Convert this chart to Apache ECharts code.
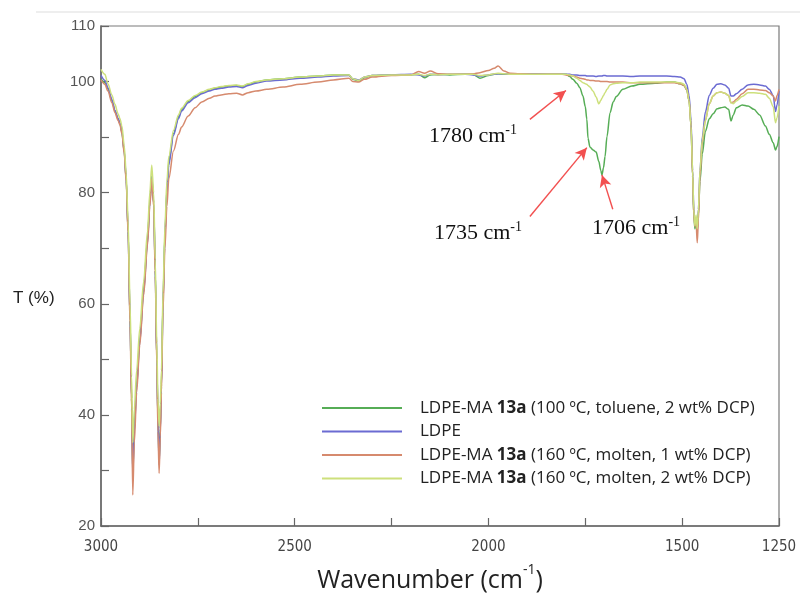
<!DOCTYPE html>
<html><head><meta charset="utf-8">
<script src="https://cdn.jsdelivr.net/npm/echarts@6/dist/echarts.min.js"></script>
<style>html,body{margin:0;padding:0;background:#fff}#c{width:800px;height:598px}</style>
</head><body><div id="c"></div>
<script>
// Wavenumbers (cm-1), shared by all four spectra
const wavenumbers = [
  3000,2990,2982,2972,2964,2956,2951,2946,2940,2935,2930,2925,2921,2918,2914,2908,2900,2890,2880,2874,
  2869,2864,2860,2856,2853,2850,2847,2844,2840,2835,2830,2825,2813,2800,2792,2775,2757,2740,2720,2706,
  2690,2670,2650,2635,2620,2600,2572,2530,2486,2440,2400,2360,2350,2335,2320,2300,2250,
  2200,2180,2165,2150,2130,2100,2060,2040,2022,2000,1985,1975,1960,1944,1920,1880,1840,1810,
  1800,1790,1782,1772,1764,1756,1750,1746,1743,1738,1730,1722,1715,1710,1707,1703,1699,1694,1686,1678,
  1670,1653,1630,1609,1570,1540,1520,
  1505,1495,1488,1482,1477,1473,1470,1467,1464,1461,1458,1454,1448,1440,1430,1420,1410,1400,1390,1380,
  1374,1368,1360,1345,1330,1315,1300,1285,1275,1265,1259,1255,1250
];
// LDPE-MA 13a (100 ºC, toluene, 2 wt% DCP)
const tolueneMA2 = [
  100.4,99.8,98.7,96.6,94.7,93.3,92.4,90.8,87.3,82.3,73,57,43,29.5,37.5,45.5,53.5,62.5,71.5,78.3,
  83,78.2,66,50,39.5,31.5,37.5,45.5,60.5,72.5,80.5,85.5,90.6,93.6,94.9,96.4,97.3,98.0,98.5,98.8,
  99.0,99.2,99.3,99.1,99.5,99.9,100.3,100.5,100.8,101.0,101.2,101.2,100.4,100.1,100.7,101.1,101.2,
  101.2,101.3,100.7,101.2,101.3,101.2,101.3,101.3,100.6,101.1,101.3,101.4,101.3,101.3,101.3,101.3,101.3,101.3,
  101.3,100.9,100.4,99.7,98.9,97.4,95.5,93.2,89.8,88.2,87.7,87.3,85.6,84.0,83.2,84.5,86.5,90.1,94.4,96.3,
  97.3,98.6,99.2,99.5,99.7,99.9,99.9,
  99.6,99.3,98.5,96.5,92,83,76,73.5,75,73.5,76,82,87,91,93.3,94.2,95.1,95.3,95.4,95.0,
  92.9,94.0,95.3,95.8,95.6,95.0,94.0,92.0,90.5,89.0,87.7,88.3,90.1
];
// LDPE
const ldpe = [
  101.1,100.2,98.9,96.8,94.8,93.4,92.5,91.0,87.5,82.5,73,57,43,28.8,37,45,53,62,71,78,
  82.8,78,66,50,39,31,37,45,60,72,80,85,90.3,93.3,94.7,96.2,97.1,97.8,98.3,98.6,
  98.8,99.0,99.1,98.9,99.3,99.7,100.1,100.3,100.6,100.8,101.0,101.1,100.5,100.3,100.8,101.1,101.2,
  101.3,101.2,101.0,101.3,101.2,101.3,101.3,101.2,101.0,101.2,101.3,101.4,101.4,101.3,101.4,101.4,101.3,101.3,
  101.3,101.3,101.2,101.2,101.1,101.1,101.1,101.0,101.0,101.0,101.0,100.9,101.0,101.0,101.0,101.1,101.1,101.0,101.0,101.0,
  101.0,101.0,100.9,101.0,101.0,101.0,100.9,
  100.8,100.5,99.5,97.5,93,84,77,74.5,75.5,73,77,84,90,94.5,97.5,98.8,99.5,99.6,99.4,98.8,
  97.4,97.4,97.8,98.6,99.4,99.5,99.4,99.2,98.6,97.5,94.6,95.8,98.3
];
// LDPE-MA 13a (160 ºC, molten, 1 wt% DCP)
const moltenMA1 = [
  100.3,99.5,98.3,96.2,94.4,93.0,92.2,90.6,87,82,72.5,56,41,25.6,35,44,52.5,61.5,70.5,77.5,
  82.5,77.5,65,49,37,29.5,36,44,58.5,70,77.5,82.5,87.5,90.5,91.8,93.8,95.3,96.3,97.0,97.4,
  97.6,97.8,97.9,97.6,98.0,98.3,98.6,99.0,99.5,99.9,100.3,100.6,100.0,99.9,100.4,100.8,101.1,
  101.2,101.8,101.5,101.9,101.4,101.3,101.3,101.4,101.6,102.0,102.4,102.8,101.9,101.5,101.4,101.3,101.3,101.3,
  101.2,101.1,101.0,100.8,100.6,100.5,100.4,100.3,100.3,100.2,100.2,100.1,100.1,100.0,100.0,100.0,100.0,100.0,99.9,99.9,
  99.9,99.9,99.8,99.8,99.8,99.8,99.8,
  99.6,99.3,98.5,96.5,92,83,76,74,74.5,71,75,83,89,93,96,97.4,98,98.1,97.9,97.5,
  96.2,96.3,96.8,97.8,98.6,98.6,98.5,98.4,98.0,97.4,96.5,97.5,98.6
];
// LDPE-MA 13a (160 ºC, molten, 2 wt% DCP)
const moltenMA2 = [
  102.2,101.3,99.6,97.6,95.9,94.2,93.3,92,88.5,83.5,75,60,47,35,41,48,55.5,64,73,80,
  85,80,68,53,43,38,42,48,62,74,82,86.5,91.2,94.0,95.2,96.6,97.5,98.1,98.6,98.9,
  99.1,99.3,99.4,99.2,99.6,100.0,100.3,100.5,100.8,101.0,101.2,101.2,100.5,100.2,100.8,101.1,101.2,
  101.2,101.3,101.1,101.3,101.2,101.3,101.3,101.3,101.1,101.2,101.4,101.5,101.4,101.3,101.3,101.3,101.3,101.3,
  101.3,101.2,101.0,100.6,100.2,99.8,99.6,99.5,99.3,99.0,98.3,97.2,96.0,96.6,97.0,97.5,98.0,98.6,99.4,99.6,
  99.7,99.8,99.8,99.9,99.9,99.9,99.9,
  99.8,99.5,98.6,96.5,92,84,77,74,76,73.5,77,84,89.5,93,96,97.4,98,98.1,97.9,97.5,
  96.2,96.0,96.5,97.3,98.0,98.0,97.9,97.7,97.0,95.5,92.6,93.5,95.6
];
const seriesNames = [
  'LDPE-MA 13a (100 ºC, toluene, 2 wt% DCP)',
  'LDPE',
  'LDPE-MA 13a (160 ºC, molten, 1 wt% DCP)',
  'LDPE-MA 13a (160 ºC, molten, 2 wt% DCP)'
];
const seriesValues = [tolueneMA2, ldpe, moltenMA1, moltenMA2];
const seriesColors = ['#56ad56', '#6b6bd2', '#d68a6e', '#cde07c'];
const xTickLabels = [3000, 2500, 2000, 1500, 1250];
const yTickLabels = [20, 40, 60, 80, 100, 110];
// Annotations: label text, arrow tail, arrow head, label centre (data coordinates)
const annotations = [
  {label: '1780', tail: [1893, 93.2], head: [1800, 98.4], at: [2040, 90.4]},
  {label: '1735', tail: [1893, 75.7], head: [1746, 88.1], at: [2027, 72.8]},
  {label: '1706', tail: [1679, 77.0], head: [1707, 83.2], at: [1619, 73.7]}
];

const chart = echarts.init(document.getElementById('c'), null, {renderer: 'canvas'});
const rich = {
  n: {fontFamily: 'Open Sans', fontSize: 17, color: '#222'},
  b: {fontFamily: 'Open Sans', fontSize: 17, fontWeight: 'bold', color: '#222'}
};
const series = seriesNames.map((name, k) => ({
  name: name,
  type: 'line',
  data: wavenumbers.map((w, i) => [w, seriesValues[k][i]]),
  showSymbol: false,
  symbol: 'none',
  smooth: 0.3,
  smoothMonotone: 'x',
  lineStyle: {color: seriesColors[k], width: 1.5},
  itemStyle: {color: seriesColors[k]},
  animation: false,
  z: 2
}));
series.push({
  type: 'line', data: [], silent: true, animation: false,
  markLine: {
    silent: true, animation: false,
    symbol: ['none', 'arrow'], symbolSize: [9, 12],
    lineStyle: {color: '#f25050', width: 1.4, type: 'solid'},
    label: {show: false},
    data: annotations.map(a => [{coord: a.tail}, {coord: a.head}])
  },
  markPoint: {
    silent: true, animation: false,
    symbol: 'rect', symbolSize: 1, itemStyle: {color: 'rgba(0,0,0,0)'},
    label: {
      show: true, position: 'inside',
      formatter: p => '{t|' + p.name + ' cm}{s|-1}',
      rich: {
        t: {fontFamily: 'Liberation Serif', fontSize: 22, color: '#111', lineHeight: 24, verticalAlign: 'bottom'},
        s: {fontFamily: 'Liberation Serif', fontSize: 14, color: '#111', lineHeight: 24, verticalAlign: 'top'}
      }
    },
    data: annotations.map(a => ({name: a.label, coord: a.at}))
  }
});

chart.setOption({
  backgroundColor: '#fff',
  animation: false,
  grid: {left: 101, right: 21, top: 26, bottom: 72, show: true, borderColor: '#7a7a7a', borderWidth: 1.2},
  legend: {
    orient: 'vertical', left: 317, top: 394,
    data: seriesNames.map((n, k) => ({name: n, icon: 'rect', itemStyle: {color: seriesColors[k]}})),
    itemWidth: 80, itemHeight: 2, itemGap: 5.5,
    textStyle: {fontFamily: 'Open Sans', fontSize: 17, color: '#222', lineHeight: 18, padding: [0, 0, 0, 13], rich: rich},
    formatter: name => name.indexOf('13a') >= 0
      ? '{n|' + name.split('13a')[0] + '}{b|13a}{n|' + name.split('13a')[1] + '}'
      : '{n|' + name + '}',
    selectedMode: false
  },
  xAxis: {
    type: 'value', min: 1250, max: 3000, interval: 250, inverse: true,
    name: '{a|Wavenumber (cm}{s|-1}{a|)}', nameLocation: 'middle', nameGap: 37,
    nameTextStyle: {padding: [0, 20, 0, 0], rich: {
      a: {fontFamily: 'Open Sans', fontSize: 25, color: '#222', lineHeight: 30, verticalAlign: 'bottom'},
      s: {fontFamily: 'Open Sans', fontSize: 14, color: '#222', lineHeight: 30, verticalAlign: 'top'}
    }},
    axisLine: {show: true, lineStyle: {color: '#666', width: 1.5}},
    axisTick: {show: true, inside: true, length: 8, lineStyle: {color: '#666', width: 1.2}},
    axisLabel: {
      fontFamily: 'Liberation Sans Narrow, DejaVu Sans Condensed, Liberation Sans', fontSize: 15, color: '#444', margin: 14,
      formatter: v => xTickLabels.indexOf(v) >= 0 ? String(v) : ''
    },
    splitLine: {show: false}
  },
  yAxis: {
    type: 'value', min: 20, max: 110, interval: 10,
    axisLine: {show: true, lineStyle: {color: '#666', width: 1.5}},
    axisTick: {show: true, inside: true, length: 8, lineStyle: {color: '#666', width: 1.2}},
    axisLabel: {
      fontFamily: 'Liberation Sans', fontSize: 15, color: '#555', margin: 6,
      formatter: v => yTickLabels.indexOf(v) >= 0 ? String(v) : ''
    },
    splitLine: {show: false}
  },
  graphic: [
    {type: 'line', shape: {x1: 36, y1: 12, x2: 800, y2: 12}, style: {stroke: '#dddddd', lineWidth: 1}, silent: true},
    {type: 'text', left: 13, top: 290, style: {text: 'T (%)', fontFamily: 'Liberation Sans', fontSize: 17, fill: '#222'}, silent: true}
  ],
  series: series
});
</script></body></html>
